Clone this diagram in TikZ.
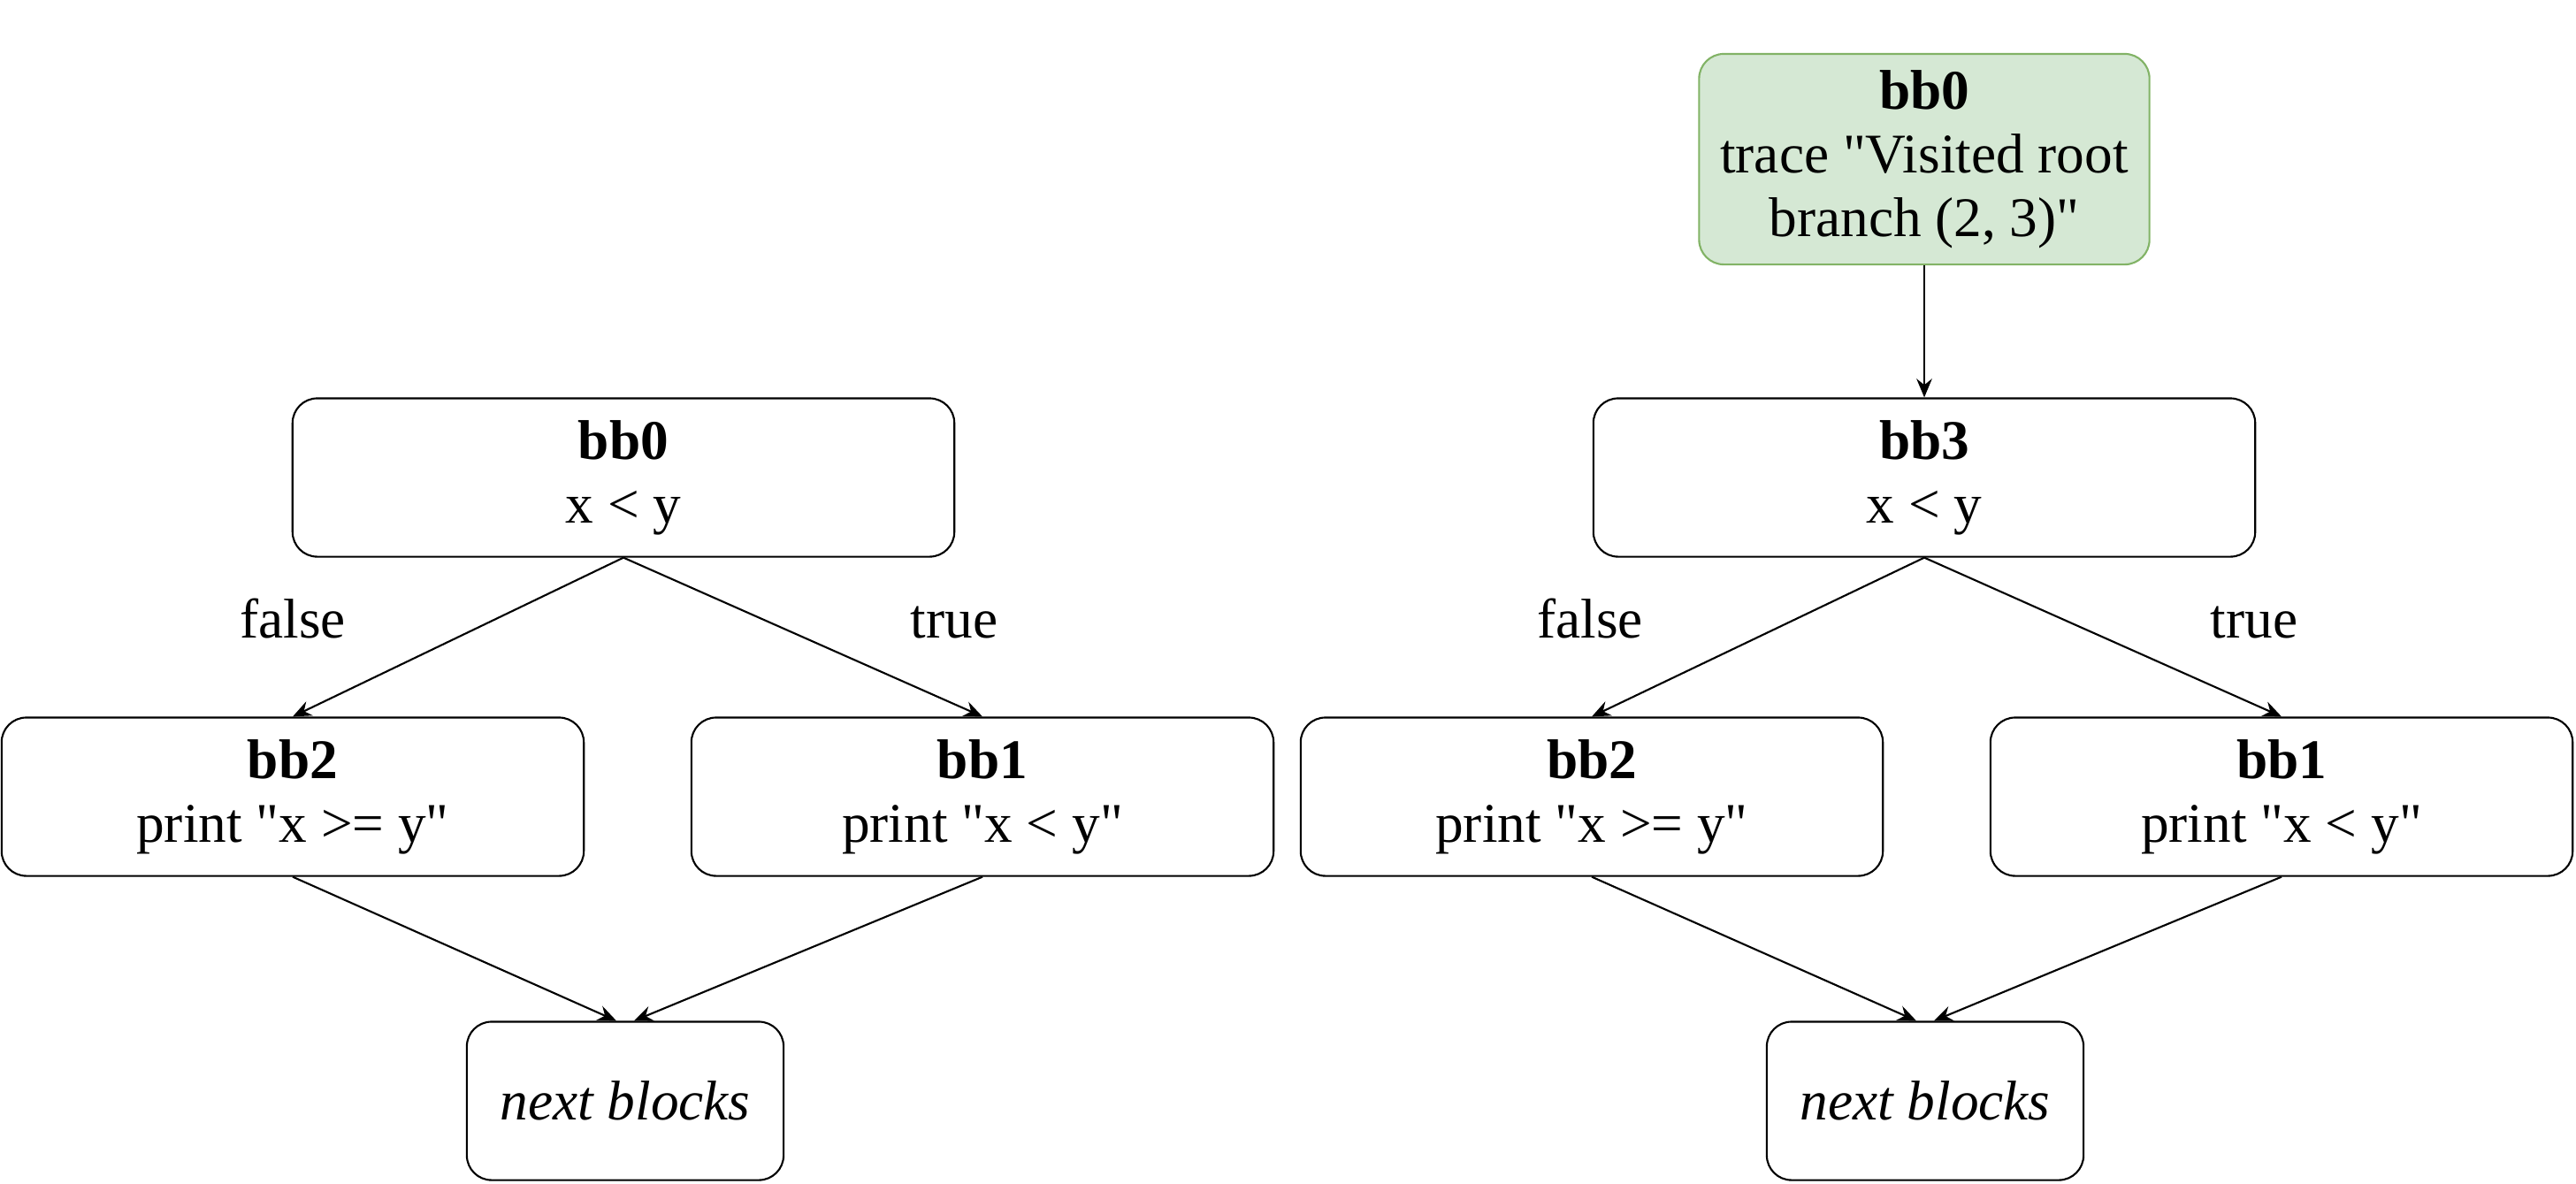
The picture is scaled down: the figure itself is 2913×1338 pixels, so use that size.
\documentclass[tikz,border=0pt]{standalone}
\usepackage{fontspec}
\setmainfont{Liberation Serif}
\usepackage{tikz}
\usetikzlibrary{arrows.meta,positioning}

\definecolor{trfill}{HTML}{D5E8D4}
\definecolor{trdraw}{HTML}{82B366}
\newcommand{\dq}{\textquotedbl}

\tikzset{
  blk/.style={draw, line width=0.6pt, rounded corners=0.28cm, align=center,
    minimum height=1.79cm, inner sep=0pt,
    font=\fontsize{18}{20.5}\selectfont},
  lbl/.style={font=\fontsize{18}{20.5}\selectfont},
  edge/.style={-{Stealth[length=6pt,width=5pt,inset=2pt]}, line width=0.6pt}
}

\begin{document}
\begin{tikzpicture}[x=0.01cm,y=-0.01cm]
  \useasboundingbox (0,0) rectangle (2913,1338);
  % left: plain branch
  \node[blk, minimum width=7.48cm] (lbb0) at (705,540) {\textbf{bb0}\\x < y};
  \node[blk, minimum width=6.58cm] (lbb2) at (331,901) {\textbf{bb2}\\print \dq x >= y\dq};
  \node[blk, minimum width=6.58cm] (lbb1) at (1111,901) {\textbf{bb1}\\print \dq x < y\dq};
  \node[blk, minimum width=3.58cm] (lnext) at (707,1245) {\textit{next blocks}};
  \node[lbl, anchor=base] (lfalse) at (331,721) {false};
  \node[lbl, anchor=base] (ltrue) at (1079,721) {true};
  \draw[edge] (lbb0.south) -- (lbb2.north);
  \draw[edge] (lbb0.south) -- (lbb1.north);
  \draw[edge] (lbb2.south) -- ([xshift=-0.1cm]lnext.north);
  \draw[edge] (lbb1.south) -- ([xshift=0.1cm]lnext.north);

  % right: with trace block
  \node[blk, fill=trfill, draw=trdraw, minimum width=5.09cm, minimum height=2.38cm]
    (rbb0) at (2176,180) {\textbf{bb0}\\trace \dq Visited root\\branch (2, 3)\dq};
  \node[blk, minimum width=7.48cm] (rbb3) at (2176,540) {\textbf{bb3}\\x < y};
  \node[blk, minimum width=6.58cm] (rbb2) at (1800,901) {\textbf{bb2}\\print \dq x >= y\dq};
  \node[blk, minimum width=6.58cm] (rbb1) at (2580,901) {\textbf{bb1}\\print \dq x < y\dq};
  \node[blk, minimum width=3.58cm] (rnext) at (2177,1245) {\textit{next blocks}};
  \node[lbl, anchor=base] (rfalse) at (1798,721) {false};
  \node[lbl, anchor=base] (rtrue) at (2549,721) {true};
  \draw[edge] (rbb0.south) -- (rbb3.north);
  \draw[edge] (rbb3.south) -- (rbb2.north);
  \draw[edge] (rbb3.south) -- (rbb1.north);
  \draw[edge] (rbb2.south) -- ([xshift=-0.1cm]rnext.north);
  \draw[edge] (rbb1.south) -- ([xshift=0.1cm]rnext.north);
\end{tikzpicture}
\end{document}
